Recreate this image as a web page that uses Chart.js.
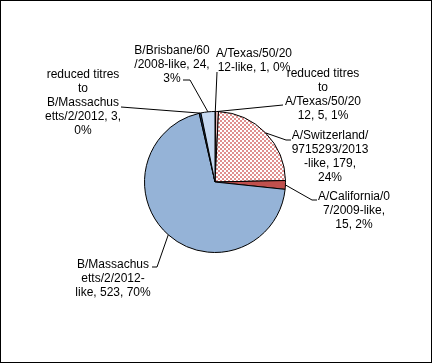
<!DOCTYPE html>
<html>
<head>
<meta charset="utf-8">
<script src="https://cdn.jsdelivr.net/npm/chart.js@4"></script>
<style>
  body { margin: 0; background: #fff; }
  canvas { display: block; }
</style>
</head>
<body>
<canvas id="pieChart" width="433" height="364"></canvas>
<script>
const categories = [
  'A/Texas/50/2012-like',
  'reduced titres to A/Texas/50/2012',
  'A/Switzerland/9715293/2013-like',
  'A/California/07/2009-like',
  'B/Massachusetts/2/2012-like',
  'reduced titres to B/Massachusetts/2/2012',
  'B/Brisbane/60/2008-like'
];
const counts = [1, 5, 179, 15, 523, 3, 24];

// where Excel wrapped each label (character cuts), and where the label sits
const labelCuts = [[13], [14, 17, 31], [14, 26, 37], [14, 26], [11, 23], [14, 17, 29, 44], [13, 28]];
const labelLayout = [
  { x: 254, y: 54, leader: [[217, 72]] },
  { x: 323, y: 74, leader: [[283, 105]] },
  { x: 330, y: 136, leader: [[286, 140], [291, 140]] },
  { x: 354, y: 197, leader: [[312, 200], [317, 200]] },
  { x: 113, y: 265, leader: [[157, 267], [152, 267]] },
  { x: 83, y: 75, leader: [[121, 107]] },
  { x: 172, y: 51, leader: [[190, 80], [183, 80]] }
];

function checker() {
  const c = document.createElement('canvas');
  c.width = 4; c.height = 4;
  const g = c.getContext('2d');
  g.fillStyle = '#fff';
  g.fillRect(0, 0, 4, 4);
  g.fillStyle = '#DF8F8E';
  g.fillRect(0, 0, 2, 2);
  g.fillRect(2, 2, 2, 2);
  return g.createPattern(c, 'repeat');
}

const total = counts.reduce((a, b) => a + b, 0);

function labelLines(i) {
  const s = `${categories[i]}, ${counts[i]}, ${Math.round(counts[i] / total * 100)}%`;
  const out = [];
  let prev = 0;
  for (const c of labelCuts[i].concat([s.length])) {
    out.push(s.slice(prev, c).trim());
    prev = c;
  }
  return out;
}

const labelsPlugin = {
  id: 'excelLabels',
  afterDraw(chart) {
    const ctx = chart.ctx;
    const arcs = chart.getDatasetMeta(0).data;
    ctx.save();
    ctx.strokeStyle = '#000';
    ctx.lineWidth = 1;
    arcs.forEach((arc, i) => {
      const mid = (arc.startAngle + arc.endAngle) / 2;
      const ax = arc.x + Math.cos(mid) * arc.outerRadius;
      const ay = arc.y + Math.sin(mid) * arc.outerRadius;
      const lay = labelLayout[i];
      ctx.beginPath();
      ctx.moveTo(ax, ay);
      lay.leader.forEach(p => ctx.lineTo(p[0], p[1]));
      ctx.stroke();
      ctx.fillStyle = '#000';
      ctx.font = '12px "Liberation Sans", Arial, sans-serif';
      ctx.textAlign = 'center';
      ctx.textBaseline = 'middle';
      labelLines(i).forEach((t, k) => ctx.fillText(t, lay.x, lay.y + k * 14));
    });
    ctx.strokeRect(0.5, 0.5, chart.width - 2, chart.height - 2);
    ctx.restore();
  }
};

const pieCanvas = document.getElementById('pieChart');
if (pieCanvas) {
  const pieCtx = pieCanvas.getContext('2d');
  new Chart(pieCtx, {
    type: 'pie',
    data: {
      labels: categories,
      datasets: [{
        data: counts,
        backgroundColor: ['#953735', '#E6B9B8', checker(), '#C0504D', '#95B3D7', '#1F497D', '#C6D9F1'],
        borderColor: '#000',
        borderWidth: 1
      }]
    },
    options: {
      responsive: false,
      animation: false,
      layout: { padding: { left: 144, right: 147, top: 111, bottom: 111 } },
      plugins: {
        legend: { display: false },
        tooltip: { enabled: false }
      }
    },
    plugins: [labelsPlugin]
  });
}
</script>
</body>
</html>
